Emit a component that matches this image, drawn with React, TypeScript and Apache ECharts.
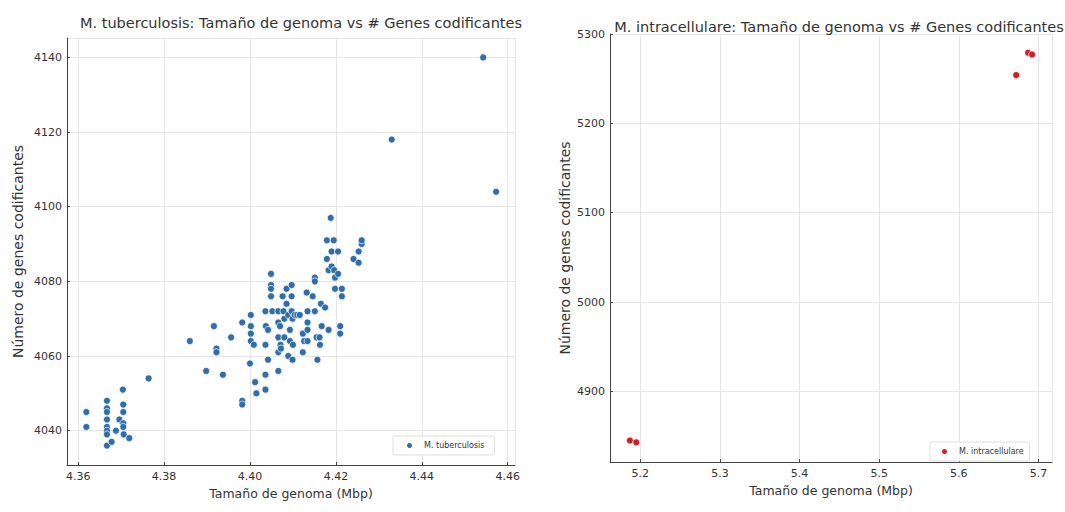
import React, { useEffect, useRef } from "react";
import * as echarts from "echarts";

const tbTitle = "M. tuberculosis: Tamaño de genoma vs # Genes codificantes";
const miTitle = "M. intracellulare: Tamaño de genoma vs # Genes codificantes";
const xName = "Tamaño de genoma (Mbp)";
const yName = "Número de genes codificantes";
const tbName = "M. tuberculosis";
const miName = "M. intracellulare";

// M. tuberculosis genome size (Mbp)
const tbSize = [
  4.4543, 4.433, 4.4573,
  4.3619, 4.3619,
  4.3667, 4.3667, 4.3667, 4.3667, 4.3667, 4.3667, 4.3667, 4.3667,
  4.3678, 4.3688, 4.3696, 4.3704, 4.3705, 4.3705, 4.3705, 4.3705, 4.3706, 4.3719, 4.3764,
  4.386, 4.3898, 4.3916, 4.3922, 4.3922, 4.3937, 4.3956, 4.3982, 4.3982, 4.3982,
  4.4, 4.4002, 4.4002, 4.4002, 4.4002, 4.4009, 4.4012, 4.4015,
  4.4036, 4.4036, 4.4036, 4.4037, 4.4042, 4.4042, 4.4036,
  4.4049, 4.4049, 4.4049, 4.4049, 4.4052,
  4.4066, 4.4066, 4.4066, 4.4066, 4.4066, 4.407, 4.4071, 4.4072,
  4.4076, 4.4078, 4.408, 4.408, 4.4085, 4.4085, 4.4089, 4.4089, 4.4093, 4.4093,
  4.4097, 4.4097, 4.4097, 4.4099, 4.4099, 4.41, 4.4104, 4.411, 4.4116,
  4.4123, 4.4123, 4.4126, 4.4132, 4.4134, 4.4134, 4.4134, 4.4134,
  4.4146, 4.4151, 4.4151, 4.4151, 4.4155, 4.4157, 4.4162, 4.4163, 4.4165, 4.4167, 4.4175,
  4.4179, 4.4179, 4.4183, 4.4183, 4.4188, 4.419, 4.419, 4.4195, 4.4196, 4.4198, 4.4198,
  4.4205, 4.4205, 4.421, 4.421, 4.4214, 4.4214,
  4.4241, 4.4253, 4.4253, 4.426, 4.426
];

// M. tuberculosis coding genes
const tbGenes = [
  4140, 4118, 4104,
  4045, 4041,
  4048, 4046, 4045, 4043, 4041, 4040, 4039, 4036,
  4037, 4040, 4043, 4051, 4047, 4045, 4042, 4041, 4039, 4038, 4054,
  4064, 4056, 4068, 4062, 4061, 4055, 4065, 4048, 4047, 4069,
  4058, 4071, 4068, 4066, 4064, 4063, 4053, 4050,
  4055, 4051, 4063, 4068, 4067, 4059, 4072,
  4082, 4079, 4078, 4076, 4072,
  4072, 4069, 4065, 4061, 4056, 4068, 4063, 4062,
  4076, 4072, 4070, 4065, 4078, 4074, 4071, 4060, 4067, 4064,
  4079, 4076, 4072, 4070, 4059, 4063, 4071, 4071, 4071,
  4066, 4061, 4064, 4077, 4072, 4069, 4067, 4064,
  4076, 4081, 4080, 4072, 4065, 4059, 4065, 4063, 4074, 4068, 4073,
  4091, 4086, 4083, 4067, 4097, 4088, 4084, 4091, 4083, 4081, 4078,
  4088, 4082, 4068, 4066, 4078, 4076,
  4086, 4085, 4088, 4090, 4091
];

// M. intracellulare genome size (Mbp) and coding genes
const miSize = [5.187, 5.195, 5.672, 5.687, 5.692];
const miGenes = [4845, 4843, 5254, 5279, 5277];

const axisLine = { show: true, lineStyle: { color: "#444", width: 1 } };
const splitLine = { show: true, lineStyle: { color: "#e6e6e6", width: 1 } };
const axisTick = { show: true, inside: true, length: 3, lineStyle: { color: "#444" } };
const axisLabel = { color: "#333", fontSize: 11, fontFamily: "DejaVu Sans", showMinLabel: false, showMaxLabel: false };
const xNameStyle = { color: "#333", fontSize: 12.5, fontFamily: "DejaVu Sans" };
const yNameStyle = { color: "#333", fontSize: 14, fontFamily: "DejaVu Sans" };
const titleStyle = { fontSize: 14.5, fontWeight: "normal", color: "#333", fontFamily: "DejaVu Sans" };

export default function App() {
  const ref = useRef<HTMLDivElement>(null);
  useEffect(() => {
    if (!ref.current) return;
    const chart = echarts.init(ref.current, undefined, { renderer: "svg" });
    const tbData = tbSize.map((x, i) => [x, tbGenes[i]]);
    const miData = miSize.map((x, i) => [x, miGenes[i]]);
    chart.setOption({
      animation: false,
      backgroundColor: "#ffffff",
      title: [
        { text: tbTitle, left: 296, top: 10, textAlign: "center", textStyle: titleStyle },
        { text: miTitle, left: 834, top: 14, textAlign: "center", textStyle: titleStyle },
      ],
      legend: [
        {
          data: [tbName], left: 393, top: 436, orient: "vertical",
          icon: "circle", itemWidth: 7, itemHeight: 7, itemGap: 4,
          padding: [5, 10, 5, 12],
          borderColor: "#dddddd", borderWidth: 1, borderRadius: 2, backgroundColor: "#ffffff",
          textStyle: { fontSize: 8, color: "#333", fontFamily: "DejaVu Sans", padding: [0, 0, 0, 6] },
        },
        {
          data: [miName], left: 930, top: 442, orient: "vertical",
          icon: "circle", itemWidth: 7, itemHeight: 7, itemGap: 4,
          padding: [5, 6, 5, 10],
          borderColor: "#dddddd", borderWidth: 1, borderRadius: 2, backgroundColor: "#ffffff",
          textStyle: { fontSize: 8, color: "#333", fontFamily: "DejaVu Sans", padding: [0, 0, 0, 6] },
        },
      ],
      grid: [
        { left: 67, top: 38, width: 448, height: 427 },
        { left: 610, top: 34, width: 442, height: 428 },
      ],
      xAxis: [
        {
          type: "value", gridIndex: 0, min: 4.3574, max: 4.4617, splitNumber: 5,
          name: xName, nameLocation: "middle", nameGap: 20, nameTextStyle: xNameStyle,
          axisLine, splitLine, axisTick,
          axisLabel: { ...axisLabel, margin: 6, formatter: (v: number) => v.toFixed(2) },
        },
        {
          type: "value", gridIndex: 1, min: 5.162, max: 5.717, splitNumber: 5,
          name: xName, nameLocation: "middle", nameGap: 20, nameTextStyle: xNameStyle,
          axisLine, splitLine, axisTick,
          axisLabel: { ...axisLabel, margin: 6, formatter: (v: number) => v.toFixed(1) },
        },
      ],
      yAxis: [
        {
          type: "value", gridIndex: 0, min: 4030.8, max: 4145.2, splitNumber: 5,
          name: yName, nameLocation: "middle", nameGap: 42, nameTextStyle: yNameStyle,
          axisLine, splitLine, axisTick,
          axisLabel: { ...axisLabel, margin: 5, formatter: (v: number) => String(Math.round(v)) },
        },
        {
          type: "value", gridIndex: 1, min: 4821, max: 5300, splitNumber: 5,
          name: yName, nameLocation: "middle", nameGap: 38, nameTextStyle: yNameStyle,
          axisLine, splitLine, axisTick,
          axisLabel: { ...axisLabel, margin: 5, showMaxLabel: true, formatter: (v: number) => String(Math.round(v)) },
        },
      ],
      series: [
        {
          name: tbName, type: "scatter", xAxisIndex: 0, yAxisIndex: 0, data: tbData,
          symbolSize: 7,
          itemStyle: { color: "#2f6ea8", borderColor: "#ffffff", borderWidth: 0.7, opacity: 1 },
        },
        {
          name: miName, type: "scatter", xAxisIndex: 1, yAxisIndex: 1, data: miData,
          symbolSize: 7,
          itemStyle: { color: "#d11f26", borderColor: "#ffffff", borderWidth: 0.7, opacity: 1 },
        },
      ],
    });
    return () => chart.dispose();
  }, []);
  return (
    <div
      ref={ref}
      style={{ position: "fixed", left: 0, top: 0, width: 1065, height: 512 }}
    />
  );
}
